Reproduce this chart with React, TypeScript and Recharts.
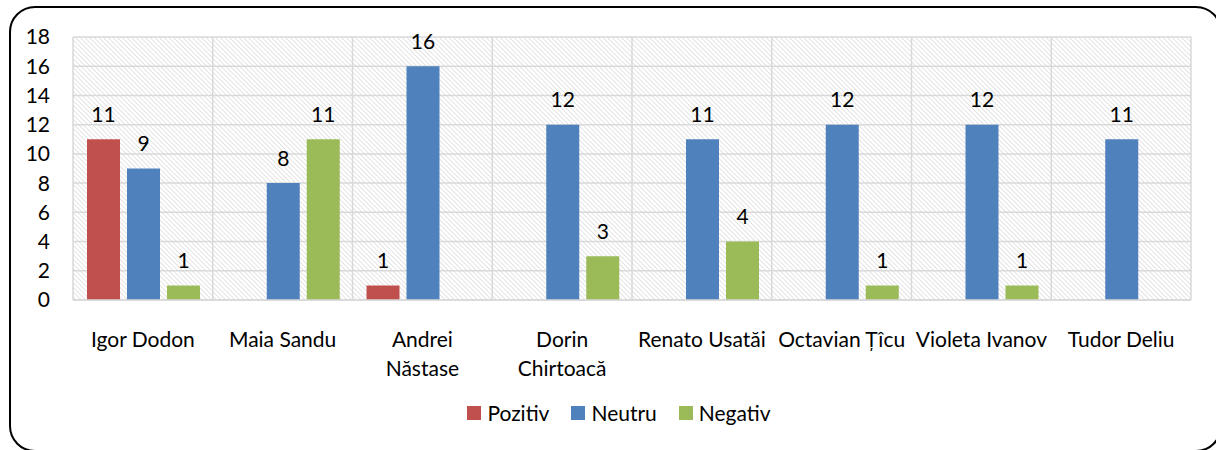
import React from "react";
import { BarChart, Bar, XAxis, YAxis, CartesianGrid, LabelList, Legend } from "recharts";

const categories = [
  "Igor Dodon",
  "Maia Sandu",
  "Andrei Năstase",
  "Dorin Chirtoacă",
  "Renato Usatăi",
  "Octavian Țîcu",
  "Violeta Ivanov",
  "Tudor Deliu",
];
const tickLines: string[][] = [
  ["Igor Dodon"],
  ["Maia Sandu"],
  ["Andrei", "Năstase"],
  ["Dorin", "Chirtoacă"],
  ["Renato Usatăi"],
  ["Octavian Țîcu"],
  ["Violeta Ivanov"],
  ["Tudor Deliu"],
];
const pozitiv: (number | null)[] = [11, null, 1, null, null, null, null, null];
const neutru: (number | null)[] = [9, 8, 16, 12, 11, 12, 12, 11];
const negativ: (number | null)[] = [1, 11, null, 3, 4, 1, 1, null];
const yTicks = [0, 2, 4, 6, 8, 10, 12, 14, 16, 18];

const seriesNames = ["Pozitiv", "Neutru", "Negativ"];
const colors = ["#C0504D", "#4F81BD", "#9BBB59"];

const data = categories.map((c, i) => ({
  name: c,
  p: pozitiv[i],
  n: neutru[i],
  g: negativ[i],
}));

const FONT = "Lato, 'Open Sans', sans-serif";
const FS = 21;

const CatTick = (props: any) => {
  const { x, y, payload, index } = props;
  const idx = categories.indexOf(payload.value);
  const lines = tickLines[idx >= 0 ? idx : index] || [payload.value];
  return (
    <g transform={`translate(${x},${y})`}>
      <text textAnchor="middle" fill="#000" fontSize={FS} fontFamily={FONT}>
        {lines.map((l, i) => (
          <tspan key={i} x={0} y={39 + i * 29}>
            {l}
          </tspan>
        ))}
      </text>
    </g>
  );
};

const LegendContent = (props: any) => {
  const payload = [...(props.payload || [])].sort(
    (a: any, b: any) => seriesNames.indexOf(a.value) - seriesNames.indexOf(b.value)
  );
  return (
    <div
      style={{
        display: "flex",
        justifyContent: "center",
        paddingLeft: 22,
        fontFamily: FONT,
        fontSize: FS,
        color: "#000",
        lineHeight: "26px",
      }}
    >
      {payload.map((e: any, i: number) => (
        <div key={i} style={{ display: "flex", alignItems: "center", marginRight: i < 2 ? 22 : 0 }}>
          <span style={{ display: "inline-block", width: 14, height: 14, background: e.color, marginRight: 6 }} />
          <span>{e.value}</span>
        </div>
      ))}
    </div>
  );
};

export default function App() {
  return (
    <div style={{ position: "absolute", left: 0, top: 0, width: 1216, height: 450, overflow: "hidden", background: "#fff" }}>
      <div
        style={{
          position: "absolute",
          left: 9,
          top: 6,
          width: 1213,
          height: 446,
          border: "2.5px solid #000",
          borderRadius: 26,
          boxSizing: "border-box",
        }}
      />
      <div style={{ position: "absolute", left: 0, top: 0 }}>
        <BarChart
          width={1216}
          height={450}
          data={data}
          margin={{ top: 37, right: 25, left: 13, bottom: 80 }}
          barCategoryGap={14}
          barGap={7}
        >
          <defs>
            <pattern id="hatch" patternUnits="userSpaceOnUse" width={3.3} height={3.3} patternTransform="rotate(-45)">
              <rect x={0} y={0} width={3.3} height={3.3} fill="#fff" />
              <line x1={0} y1={0} x2={0} y2={3.3} stroke="#d4d4d4" strokeWidth={1.2} />
            </pattern>
          </defs>
          <CartesianGrid
            fill="url(#hatch)"
            stroke="#d9d9d9"
            strokeWidth={1.5}
            verticalCoordinatesGenerator={({ offset }: any) =>
              categories.map((_, i) => offset.left + (i * offset.width) / categories.length).concat([offset.left + offset.width])
            }
          />
          <XAxis
            dataKey="name"
            tick={<CatTick />}
            tickLine={false}
            axisLine={{ stroke: "#d9d9d9", strokeWidth: 1.5 }}
            height={70}
            interval={0}
          />
          <YAxis
            domain={[0, 18]}
            ticks={yTicks}
            tickLine={false}
            axisLine={false}
            tickSize={0}
            tickMargin={23}
            width={60}
            tick={{ fill: "#000", fontSize: FS, fontFamily: FONT }}
            interval={0}
          />
          <Legend
            verticalAlign="middle"
            layout="horizontal"
            wrapperStyle={{ top: 400, left: 0, width: 1216 }}
            content={<LegendContent />}
          />
          {["p", "n", "g"].map((k, i) => (
            <Bar key={k} dataKey={k} name={seriesNames[i]} fill={colors[i]} isAnimationActive={false}>
              <LabelList dataKey={k} position="top" offset={17.5} fill="#000" fontSize={FS} fontFamily={FONT} />
            </Bar>
          ))}
        </BarChart>
      </div>
    </div>
  );
}
